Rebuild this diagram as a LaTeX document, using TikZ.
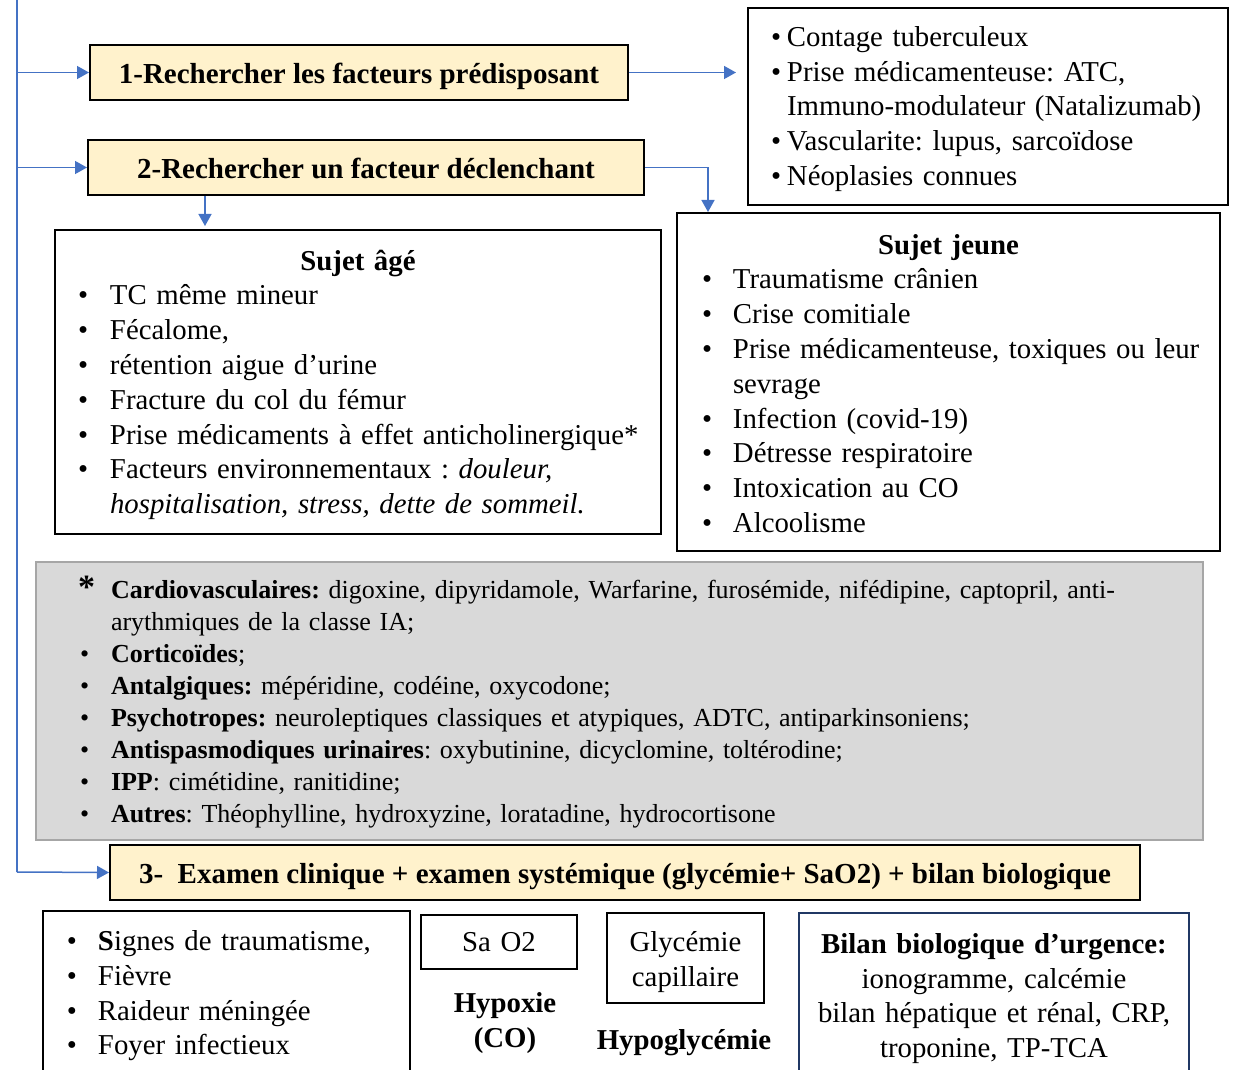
\documentclass[tikz,border=0pt]{standalone}
\usepackage{fontspec}
\setmainfont{Liberation Serif}
\usetikzlibrary{arrows.meta}
\definecolor{creme}{HTML}{FFF2CC}
\definecolor{bleu}{HTML}{4472C4}
\definecolor{gris}{HTML}{D9D9D9}
\definecolor{grisbord}{HTML}{A6A6A6}
\definecolor{marine}{HTML}{203864}
\frenchspacing
% puce: decalage de la puce, ecart puce-texte, texte
\newcommand{\puce}[3]{\par\noindent\hspace*{#1}\makebox[#2][l]{\textbullet}#3}
\newcommand{\suite}[2]{\par\noindent\hspace*{#1}#2}

\begin{document}
\begin{tikzpicture}[x=0.5pt,y=-0.5pt,
	etape/.style={draw,line width=1pt,fill=creme,minimum height=27.5pt,inner sep=0pt,
		text height=11pt,text depth=0pt,font=\fontsize{14.5}{17}\selectfont\bfseries},
	cadre/.style={draw,line width=1pt,inner sep=0pt,align=left,
		font=\fontsize{14.4}{17.4}\selectfont},
	fleche/.style={draw=bleu,line width=0.75pt,-{Triangle[length=6pt,width=6.5pt]}}]
	\clip (0,0) rectangle (1233,1070);
	%\draw[help lines] (0,0) grid[step=50] (1233,1070);
	\node[etape,minimum width=269pt] (fact1) at (359,72.5) {1-Rechercher les facteurs prédisposant};
	\node[etape,minimum width=278pt] (decl) at (366,167.5) {2-Rechercher un facteur déclenchant};
	\node[cadre,text width=240pt,minimum height=98.5pt] (contage) at (988,106.5) {%
		\puce{11.5pt}{8pt}{Contage tuberculeux}
		\puce{11.5pt}{8pt}{Prise médicamenteuse: ATC,}
		\suite{19.5pt}{Immuno-modulateur (Natalizumab)}
		\puce{11.5pt}{8pt}{Vascularite: lupus, sarcoïdose}
		\puce{11.5pt}{8pt}{Néoplasies connues}\par\kern5pt};
	\node[cadre,text width=303pt,minimum height=152pt] (age) at (358,382) {%
		\par\noindent\makebox[\linewidth]{\bfseries Sujet âgé}
		\puce{11.5pt}{16pt}{TC même mineur}
		\puce{11.5pt}{16pt}{Fécalome,}
		\puce{11.5pt}{16pt}{rétention aigue d’urine}
		\puce{11.5pt}{16pt}{Fracture du col du fémur}
		\puce{11.5pt}{16pt}{Prise médicaments à effet anticholinergique*}
		\puce{11.5pt}{16pt}{Facteurs environnementaux : \textit{douleur,}}
		\suite{27.5pt}{\textit{hospitalisation, stress, dette de sommeil.}}\par\kern4.5pt};
	\node[cadre,text width=271.5pt,minimum height=169pt] (jeune) at (948.5,382) {%
		\par\noindent\makebox[\linewidth]{\bfseries Sujet jeune}
		\puce{12.5pt}{15.5pt}{Traumatisme crânien}
		\puce{12.5pt}{15.5pt}{Crise comitiale}
		\puce{12.5pt}{15.5pt}{Prise médicamenteuse, toxiques ou leur}
		\suite{28pt}{sevrage}
		\puce{12.5pt}{15.5pt}{Infection (covid-19)}
		\puce{12.5pt}{15.5pt}{Détresse respiratoire}
		\puce{12.5pt}{15.5pt}{Intoxication au CO}
		\puce{12.5pt}{15.5pt}{Alcoolisme}\par\kern6pt};
	\node[cadre,draw=grisbord,fill=gris,line width=0.75pt,text width=583.5pt,minimum height=139pt,
		font=\fontsize{13}{16}\selectfont] (medic) at (619.5,701) {%
		\par\noindent\hspace*{21pt}\makebox[16.5pt][l]{\fontsize{17}{17}\selectfont\bfseries *}%
		\textbf{Cardiovasculaires:} digoxine, dipyridamole, Warfarine, furosémide, nifédipine, captopril, anti-
		\suite{37.5pt}{arythmiques de la classe IA;}
		\puce{22pt}{15.5pt}{\textbf{Corticoïdes};}
		\puce{22pt}{15.5pt}{\textbf{Antalgiques:} mépéridine, codéine, oxycodone;}
		\puce{22pt}{15.5pt}{\textbf{Psychotropes:} neuroleptiques classiques et atypiques, ADTC, antiparkinsoniens;}
		\puce{22pt}{15.5pt}{\textbf{Antispasmodiques urinaires}: oxybutinine, dicyclomine, toltérodine;}
		\puce{22pt}{15.5pt}{\textbf{IPP}: cimétidine, ranitidine;}
		\puce{22pt}{15.5pt}{\textbf{Autres}: Théophylline, hydroxyzine, loratadine, hydrocortisone}\par\kern4pt};
	\node[etape,minimum width=515pt] (examen) at (625,872.5) {3-\ \ Examen clinique + examen systémique (glycémie+ SaO2) + bilan biologique};
	\node[cadre,text width=183.5pt,minimum height=82pt] (signes) at (226.5,993) {%
		\puce{12pt}{15.5pt}{\textbf{S}ignes de traumatisme,}
		\puce{12pt}{15.5pt}{Fièvre}
		\puce{12pt}{15.5pt}{Raideur méningée}
		\puce{12pt}{15.5pt}{Foyer infectieux}\par\kern4.5pt};
	\node[cadre,align=center,text width=78pt,minimum height=27pt] (sao2) at (499,942) {Sa O2};
	\node[cadre,align=center,text width=78.5pt,minimum height=45pt] (glyc) at (685.5,958) {%
		Glycémie\\capillaire\par\kern-4pt};
	\node[cadre,draw=marine,align=center,text width=195pt,minimum height=83pt] (bilan) at (994,996) {%
		\textbf{Bilan biologique d’urgence:}\\ionogramme, calcémie\\bilan hépatique et rénal, CRP,\\troponine, TP-TCA\par\kern-2.5pt};
	\node[align=center,font=\fontsize{14.4}{17.4}\selectfont\bfseries] (hypox) at (505,1023) {Hypoxie\\(CO)};
	\node[font=\fontsize{14.4}{17.4}\selectfont\bfseries] (hypog) at (684,1043) {Hypoglycémie};
	% fleches
	\coordinate (haut) at (17,0);
	\coordinate (bas) at (17,872);
	\draw[bleu,line width=0.75pt] (haut) -- (bas);
	\draw[fleche] (haut |- fact1.west) -- (fact1.west);
	\draw[fleche] (haut |- decl.west) -- (decl.west);
	\draw[fleche] (bas) -- (examen.west);
	\draw[fleche,shorten >=5.5pt] (fact1.east) -- (fact1.east -| contage.west);
	\draw[fleche] (decl.east) -| ([xshift=16pt]jeune.north west);
	\coordinate (ag) at ([xshift=75.5pt]age.north west);
	\draw[fleche,shorten >=1.5pt] (ag |- decl.south) -- (ag);
\end{tikzpicture}
\end{document}
